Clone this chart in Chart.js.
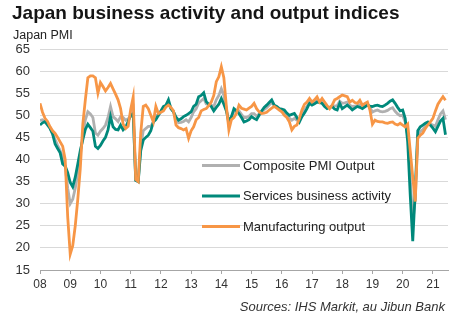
<!DOCTYPE html>
<html lang="en">
<head>
<meta charset="UTF-8">
<title>Japan business activity and output indices</title>
<script src="https://cdn.jsdelivr.net/npm/chart.js@4.4.1/dist/chart.umd.min.js"></script>
<style>
    body { margin: 0; background: #fff; font-family: 'Liberation Sans', Arial, sans-serif; }
    #wrap { position: relative; width: 464px; height: 322px; }
    #chart { position: absolute; left: 0; top: 0; }
    #title { position: absolute; left: 12px; top: 3px; font-size: 19px; font-weight: bold; line-height: 19px; color: #151515; white-space: nowrap; }
    #subtitle { position: absolute; left: 13px; top: 29px; font-size: 12.5px; line-height: 13px; color: #222; white-space: nowrap; }
    #source { position: absolute; right: 19px; top: 299px; font-size: 13px; line-height: 15px; font-style: italic; color: #333; white-space: nowrap; }
</style>
</head>
<body>
<div id="wrap">
    <canvas id="chart" width="464" height="322"></canvas>
    <div id="title">Japan business activity and output indices</div>
    <div id="subtitle">Japan PMI</div>
    <div id="source">Sources: IHS Markit, au Jibun Bank</div>
</div>

<script>
// monthly, Jan 2008 onwards (one row per year)
var yearLabels = ['08','09','10','11','12','13','14','15','16','17','18','19','20','21'];
var seriesNames = ['Composite PMI Output', 'Services business activity', 'Manufacturing output'];

var composite = [
    48.8, 49.0, 48.5, 47.8, 47.2, 45.8, 44.5, 43.2, 42.0, 40.5, 38.5, 33.5,
    30.0, 31.0, 33.5, 37.0, 41.0, 45.5, 49.0, 50.8, 50.3, 49.5, 46.0, 45.5,
    46.4, 47.0, 47.8, 49.5, 52.0, 49.7, 49.2, 48.6, 49.7, 49.5, 48.9, 49.2,
    49.7, 51.2, 35.3, 35.0, 43.0, 46.5, 47.0, 47.5, 47.5, 48.5, 50.0, 50.0,
    50.8, 51.6, 52.0, 53.0, 51.5, 50.8, 49.0, 48.3, 48.4, 48.6, 49.0, 48.5,
    49.5, 50.8, 51.5, 52.8, 53.3, 53.8, 52.6, 52.4, 52.3, 52.0, 53.5, 54.5,
    56.0, 54.5, 51.5, 47.8, 49.5, 50.8, 50.8, 51.0, 50.2, 49.5, 49.5, 49.8,
    50.4, 50.4, 49.8, 50.3, 50.8, 51.3, 51.7, 52.3, 52.9, 52.2, 51.8, 51.4,
    51.2, 50.8, 50.1, 49.4, 48.9, 49.3, 48.9, 48.8, 50.2, 51.3, 52.0, 53.0,
    52.6, 52.9, 53.4, 52.9, 53.1, 52.4, 51.8, 51.7, 52.1, 52.1, 52.2, 53.2,
    52.7, 52.8, 53.0, 52.3, 52.0, 52.1, 52.2, 52.4, 51.8, 52.2, 52.5, 51.8,
    50.7, 51.0, 51.2, 50.9, 50.8, 50.9, 51.1, 51.5, 51.7, 50.9, 50.3, 49.9,
    50.0, 48.5, 45.5, 36.0, 25.8, 31.0, 45.5, 46.3, 46.8, 47.5, 48.1, 48.0,
    47.8, 47.5, 49.0, 50.3, 51.0, 49.0
];

var services = [
    47.8, 48.3, 48.6, 47.8, 47.0, 45.8, 43.5, 42.5, 41.5, 39.0, 38.5, 37.0,
    34.8, 33.8, 36.0, 39.0, 42.0, 44.5, 46.8, 48.0, 47.2, 46.4, 43.0, 42.5,
    43.2, 44.2, 45.0, 46.7, 49.7, 47.4, 46.8, 46.7, 47.8, 46.7, 47.3, 48.6,
    50.0, 50.4, 35.3, 35.0, 42.0, 44.4, 45.0, 45.5, 46.5, 48.5, 49.0, 50.0,
    51.0, 52.0, 52.3, 53.5, 51.5, 50.8, 49.6, 48.9, 49.2, 49.7, 50.0, 50.4,
    50.8, 52.0, 52.5, 54.2, 54.5, 55.1, 53.1, 52.5, 52.0, 51.0, 51.8, 52.5,
    53.8, 52.5, 51.0, 48.5, 49.7, 51.5, 51.0, 50.4, 49.5, 48.5, 48.7, 49.0,
    49.7, 49.3, 49.0, 50.0, 51.0, 51.8, 52.3, 52.9, 53.5, 52.3, 52.0, 51.5,
    51.4, 51.2, 50.5, 50.0, 50.2, 50.4, 49.5, 48.5, 49.7, 50.5, 51.5, 52.7,
    52.3, 52.6, 53.0, 52.9, 52.7, 52.0, 51.5, 51.8, 52.0, 51.4, 51.2, 52.7,
    51.5, 51.9, 52.3, 51.8, 51.2, 51.6, 52.0, 51.8, 51.5, 51.9, 52.3, 52.1,
    52.0, 52.2, 52.3, 52.1, 52.0, 52.3, 52.7, 53.2, 53.5, 52.7, 51.8, 51.0,
    51.2, 49.3, 44.0, 32.0, 21.5, 33.0, 46.5, 47.4, 47.8, 48.2, 48.5, 47.8,
    47.1, 46.3, 47.5, 48.7, 49.3, 45.6
];

var manufacturing = [
    52.7, 50.7, 49.3, 48.6, 47.4, 46.5, 45.9, 45.0, 44.0, 43.0, 40.0, 27.0,
    18.6, 20.5, 25.0, 31.0, 38.0, 48.0, 53.5, 58.5, 58.9, 58.9, 58.5, 55.0,
    57.4, 56.5, 55.5, 56.3, 57.2, 56.0, 54.8, 53.5, 51.5, 48.0, 47.0, 47.5,
    51.3, 54.1, 35.5, 35.0, 46.0, 52.0, 52.3, 51.5, 50.0, 48.5, 52.0, 50.4,
    50.7, 51.0, 51.9, 52.3, 51.8, 51.0, 47.8, 47.2, 47.0, 46.7, 47.0, 44.8,
    46.5, 47.4, 49.0, 49.5, 51.0, 51.3, 51.5, 52.2, 53.0, 54.5, 57.6, 58.7,
    61.0, 58.5, 52.0, 46.7, 49.0, 49.5, 50.4, 52.3, 51.6, 51.4, 51.2, 51.6,
    52.0, 52.7, 51.5, 50.8, 50.4, 50.5, 50.7, 51.2, 51.6, 52.0, 51.6, 51.2,
    50.8, 50.0, 49.5, 48.5, 46.7, 47.5, 47.8, 49.3, 51.2, 52.5, 53.0, 53.8,
    53.0, 53.5, 54.2, 53.0, 53.8, 53.0, 52.2, 51.5, 52.3, 53.5, 53.8, 54.2,
    54.6, 54.4, 54.2, 53.0, 53.4, 52.9, 52.7, 53.4, 52.3, 52.7, 53.0, 51.2,
    48.0, 48.9, 48.6, 48.5, 48.5, 48.3, 48.2, 48.4, 48.5, 48.0, 47.8, 48.2,
    47.8, 47.4, 48.0, 42.0, 36.0, 30.5, 44.8, 45.5, 46.0, 47.0, 47.8, 48.5,
    49.3, 51.0, 52.5, 53.4, 54.2, 53.4
];

var seriesColors = ['#b0b0b0', '#00897b', '#f79646'];

// x = month number from Jan 2008
function toPoints(arr) {
    return arr.map(function (v, i) { return { x: i, y: v }; });
}

// legend drawn inside the plot, lines + labels
var insideLegend = {
    id: 'insideLegend',
    afterDatasetsDraw: function (chart) {
        var ctx = chart.ctx;
        ctx.save();
        ctx.font = "13px 'Liberation Sans', Arial, sans-serif";
        ctx.textBaseline = 'middle';
        for (var i = 0; i < seriesNames.length; i++) {
            var y = 165.5 + i * 30.5;
            ctx.strokeStyle = seriesColors[i];
            ctx.lineWidth = 3;
            ctx.beginPath();
            ctx.moveTo(202, y);
            ctx.lineTo(240, y);
            ctx.stroke();
            ctx.fillStyle = '#222';
            ctx.fillText(seriesNames[i], 243, y + 0.5);
        }
        ctx.restore();
    }
};

Chart.defaults.font.family = "'Liberation Sans', Arial, sans-serif";

var datasets = [
    { label: seriesNames[0], data: toPoints(composite), borderColor: seriesColors[0], order: 2 },
    { label: seriesNames[1], data: toPoints(services), borderColor: seriesColors[1], order: 1 },
    { label: seriesNames[2], data: toPoints(manufacturing), borderColor: seriesColors[2], order: 0 }
];
datasets.forEach(function (d) {
    d.borderWidth = 2.8;
    d.pointRadius = 0;
    d.tension = 0;
    d.fill = false;
});

new Chart(document.getElementById('chart'), {
    type: 'line',
    data: { datasets: datasets },
    options: {
        responsive: false,
        animation: false,
        layout: { padding: { top: 49, left: 0, right: 16, bottom: 30 } },
        plugins: {
            legend: { display: false },
            title: { display: false },
            tooltip: { enabled: false }
        },
        scales: {
            x: {
                type: 'linear',
                min: 0,
                max: 162,
                afterBuildTicks: function (s) {
                    s.ticks = yearLabels.map(function (l, i) { return { value: i * 12 }; });
                },
                afterFit: function (s) { s.height = 22; },
                ticks: {
                    autoSkip: false,
                    maxRotation: 0,
                    padding: 3,
                    color: '#333',
                    font: { size: 12 },
                    callback: function (v) { return yearLabels[Math.round(v / 12)]; }
                },
                grid: { drawOnChartArea: false, drawTicks: true, tickLength: 4, color: '#a6a6a6' },
                border: { display: true, color: '#a6a6a6' }
            },
            y: {
                min: 15,
                max: 65,
                afterFit: function (s) { s.width = 40; },
                ticks: { stepSize: 5, padding: 10, color: '#333', font: { size: 13 } },
                grid: { color: '#d9d9d9', drawTicks: false },
                border: { display: false }
            }
        }
    },
    plugins: [insideLegend]
});
</script>
</body>
</html>
